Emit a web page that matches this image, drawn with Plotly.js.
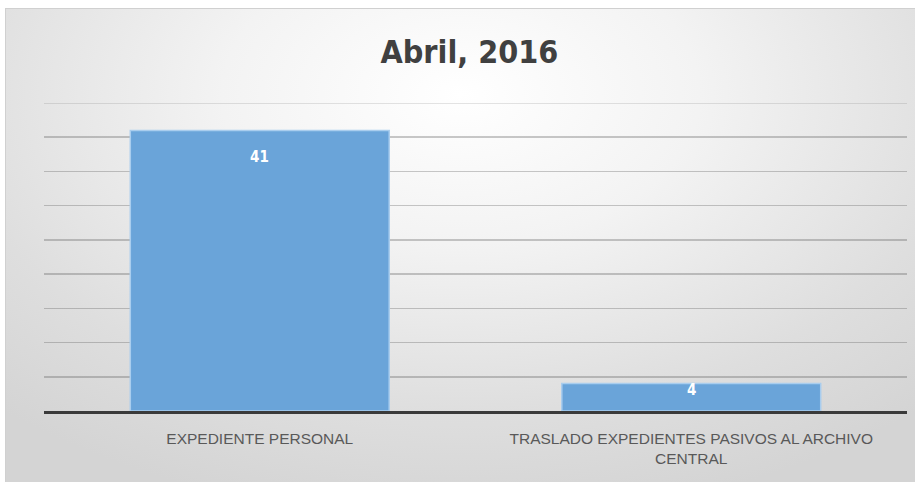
<!DOCTYPE html>
<html>
<head>
<meta charset="utf-8">
<script src="https://cdn.plot.ly/plotly-3.0.1.min.js"></script>
<style>
  html, body { margin: 0; padding: 0; background: #ffffff; }
  #wrap { position: relative; width: 915px; height: 482px; overflow: hidden; }
  #bg { position: absolute; left: 5px; top: 8px; width: 910px; height: 474px;
        background: radial-gradient(ellipse 75% 90% at 50% 18%, #ffffff 0%, #f3f3f3 35%, #dedede 75%, #d4d4d4 100%);
        border-top: 1px solid #d0d0d0; border-left: 1px solid #d0d0d0; }
  #chart { position: absolute; left: 0; top: 0; width: 915px; height: 482px; }
</style>
</head>
<body>
<div id="wrap">
  <div id="bg"></div>
  <div id="chart"></div>
</div>
<script>
const categories = ["EXPEDIENTE PERSONAL", "TRASLADO EXPEDIENTES PASIVOS AL ARCHIVO<br>CENTRAL"];
const values = [41, 4];
const chartTitle = "Abril, 2016";
const axisMax = 45;

const labelShift = [-27, -6];
const narrow = "'DejaVu Sans Condensed', 'Liberation Sans Narrow', sans-serif";

const trace = {
  type: "bar",
  x: categories,
  y: values,
  width: 0.6,
  marker: { color: "#6aa4d9", line: { color: "#a9cdee", width: 1.5 } },
  hoverinfo: "skip"
};

const annotations = categories.map((c, i) => ({
  x: c, y: values[i], xref: "x", yref: "y",
  text: "<b>" + values[i] + "</b>",
  showarrow: false, yanchor: "middle", yshift: labelShift[i],
  font: { family: narrow, size: 15, color: "#ffffff" }
}));

const layout = {
  width: 915, height: 482,
  margin: { l: 44, r: 8, t: 103, b: 71 },
  paper_bgcolor: "rgba(0,0,0,0)",
  plot_bgcolor: "rgba(0,0,0,0)",
  title: { text: "<b>" + chartTitle + "</b>", x: 0.513, xanchor: "center", y: 0.893, yanchor: "middle",
           font: { family: narrow, size: 32, color: "#404040" } },
  showlegend: false,
  bargap: 0.4,
  xaxis: {
    showgrid: false, zeroline: false,
    showline: true, linecolor: "#3a3a3a", linewidth: 2.5,
    ticks: "", ticklabelstandoff: 12,
    tickfont: { family: "'Liberation Sans', Arial, sans-serif", size: 15.5, color: "#595959" },
    fixedrange: true
  },
  yaxis: {
    range: [0, axisMax], tick0: 0, dtick: 5,
    showgrid: true, gridcolor: "rgba(90,90,90,0.33)", gridwidth: 1.5,
    zeroline: false, showticklabels: false, ticks: "", showline: false,
    fixedrange: true
  },
  shapes: [{
    type: "line", xref: "paper", yref: "y", x0: 0, x1: 1, y0: axisMax, y1: axisMax,
    line: { color: "rgba(90,90,90,0.22)", width: 1.5 }, layer: "below"
  }],
  annotations: annotations
};

Plotly.newPlot("chart", [trace], layout, { displayModeBar: false, staticPlot: true });
</script>
</body>
</html>
